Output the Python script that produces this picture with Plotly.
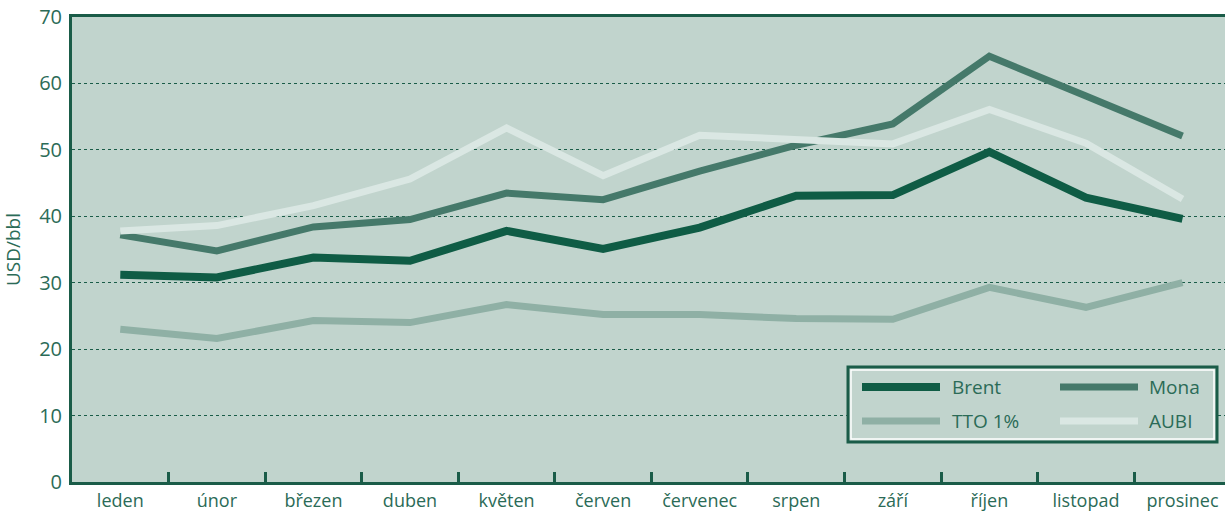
import plotly.graph_objects as go

months = ["leden", "únor", "březen", "duben", "květen", "červen",
          "červenec", "srpen", "září", "říjen", "listopad", "prosinec"]

brent = [31.2, 30.8, 33.8, 33.3, 37.8, 35.1, 38.3, 43.1, 43.2, 49.7, 42.8, 39.6]
mona = [37.2, 34.8, 38.4, 39.5, 43.5, 42.5, 46.8, 50.7, 53.9, 64.1, 58.1, 52.1]
tto = [23.0, 21.6, 24.3, 24.0, 26.7, 25.2, 25.2, 24.6, 24.5, 29.3, 26.3, 30.0]
aubi = [37.8, 38.6, 41.6, 45.6, 53.3, 46.1, 52.2, 51.5, 50.9, 56.1, 51.0, 42.6]

series_names = ["Brent", "Mona", "TTO 1%", "AUBI"]
series_values = [brent, mona, tto, aubi]
series_colors = ["#0f5c45", "#45796a", "#8fb0a5", "#dae7e3"]
series_widths = [8, 7, 7, 7]

y_ticks = [0, 10, 20, 30, 40, 50, 60, 70]

AX = "#1a5c48"
TXT = "#2b6b57"
BG = "#c1d4cd"
FONT = "Open Sans"

fig = go.Figure()
for name, vals, col, w in zip(series_names, series_values, series_colors, series_widths):
    fig.add_trace(go.Scatter(
        x=months, y=vals, mode="lines", name=name,
        line=dict(color=col, width=w), showlegend=False,
    ))

W, H = 1225, 513
L, R, T, B = 72, 0, 17, 31
pw = W - L - R
ph = H - T - B


def px(x):
    return (x - L) / pw


def py(y):
    return (H - B - y) / ph


shapes = []
annotations = []
# legend box
shapes.append(dict(type="rect", xref="paper", yref="paper",
                   x0=px(848), x1=px(1217), y0=py(442), y1=py(367),
                   line=dict(color=AX, width=3), fillcolor=BG, layer="above"))
shapes.append(dict(type="rect", xref="paper", yref="paper",
                   x0=px(851), x1=px(1214), y0=py(439), y1=py(370),
                   line=dict(color="white", width=1.5), fillcolor="rgba(0,0,0,0)", layer="above"))
leg_pos = [(862, 940, 950, 387), (1060, 1138, 1147, 387),
           (862, 940, 950, 421), (1060, 1138, 1147, 421)]
for (x0, x1, tx, yy), name, col, w in zip(leg_pos, series_names, series_colors, series_widths):
    shapes.append(dict(type="line", xref="paper", yref="paper",
                       x0=px(x0), x1=px(x1), y0=py(yy), y1=py(yy),
                       line=dict(color=col, width=w), layer="above"))
    annotations.append(dict(xref="paper", yref="paper", x=px(tx), y=py(yy),
                            text=name, showarrow=False, xanchor="left", yanchor="middle",
                            font=dict(family=FONT, size=19, color=TXT)))

fig.update_layout(
    width=W, height=H,
    margin=dict(l=L, r=R, t=T, b=B, pad=0),
    paper_bgcolor="white",
    plot_bgcolor=BG,
    font=dict(family=FONT, size=18, color=TXT),
    shapes=shapes,
    annotations=annotations,
    xaxis=dict(
        type="category",
        range=[-0.5, 11.44],
        automargin=False,
        showgrid=False,
        showline=True, linecolor=AX, linewidth=3,
        mirror=True,
        ticks="inside", tickson="boundaries", ticklen=10, tickwidth=3, tickcolor=AX,
        tickfont=dict(family=FONT, size=18, color=TXT),
        ticklabelstandoff=0,
        zeroline=False,
    ),
    yaxis=dict(
        range=[0, 70],
        automargin=False,
        tickvals=y_ticks,
        showgrid=True, gridcolor=AX, gridwidth=1, griddash="dot",
        showline=True, linecolor=AX, linewidth=3,
        ticks="", ticklabelstandoff=3,
        tickfont=dict(family=FONT, size=20, color=TXT),
        zeroline=False,
        title=dict(text="USD/bbl", font=dict(family=FONT, size=19, color=TXT), standoff=16),
    ),
)

fig.write_html("out.html", config={"displayModeBar": False},
               post_script="document.body.style.margin='0';document.body.style.overflow='hidden';")
